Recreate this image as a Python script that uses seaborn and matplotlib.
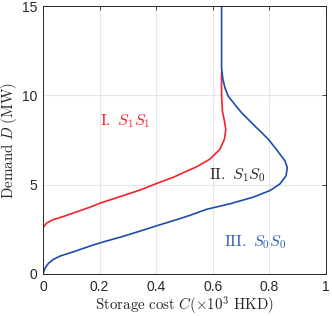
import numpy as np
import matplotlib
matplotlib.use('Agg')
import matplotlib.pyplot as plt
import seaborn as sns

# curve data (storage cost C, demand D)
red_c = [0.0, 0.013, 0.036, 0.072, 0.107, 0.166, 0.201, 0.284, 0.343, 0.402, 0.460,
         0.500, 0.543, 0.590, 0.625, 0.641, 0.646, 0.641, 0.634, 0.631, 0.631]
red_d = [2.59, 2.85, 3.04, 3.22, 3.41, 3.74, 3.96, 4.39, 4.70, 5.07, 5.41,
         5.70, 6.00, 6.43, 6.98, 7.54, 8.09, 8.56, 9.11, 10.04, 11.30]

blue_c = [0.0, 0.007, 0.019, 0.036, 0.060, 0.107, 0.166, 0.201, 0.284, 0.343, 0.402,
          0.460, 0.519, 0.578, 0.661, 0.743, 0.802, 0.837, 0.859, 0.863, 0.855,
          0.837, 0.820, 0.796, 0.773, 0.755, 0.731, 0.702, 0.678, 0.655, 0.643,
          0.635, 0.631, 0.631]
blue_d = [0.0, 0.32, 0.59, 0.81, 1.00, 1.24, 1.56, 1.74, 2.11, 2.40, 2.70,
          2.98, 3.28, 3.62, 3.93, 4.30, 4.67, 5.04, 5.50, 5.96, 6.33,
          6.71, 7.07, 7.54, 7.91, 8.18, 8.56, 9.02, 9.48, 9.94, 10.41,
          10.96, 11.52, 15.0]

red = '#f5202a'
blue = '#1f4ca8'

sns.set_style('white')
plt.rcParams['mathtext.fontset'] = 'cm'
plt.rcParams['font.family'] = ['Liberation Sans', 'DejaVu Sans']

fig = plt.figure(figsize=(3.32, 3.16), dpi=100)
ax = fig.add_axes([0.1295, 0.133, 0.8525, 0.848])

sns.lineplot(x=red_c, y=red_d, sort=False, estimator=None, color=red, lw=1.2, ax=ax)
sns.lineplot(x=blue_c, y=blue_d, sort=False, estimator=None, color=blue, lw=1.2, ax=ax)

ax.set_xlim(0, 1)
ax.set_ylim(0, 15)
ax.set_xticks([0, 0.2, 0.4, 0.6, 0.8, 1])
ax.set_xticklabels(['0', '0.2', '0.4', '0.6', '0.8', '1'])
ax.set_yticks([0, 5, 10, 15])
ax.grid(True, color='#e6e6e6', lw=0.8)
ax.tick_params(direction='in', length=3, width=0.6, top=True, right=True,
               labelsize=10, colors='#262626', pad=4)
for s in ax.spines.values():
    s.set_color('#262626')
    s.set_linewidth(0.7)

ax.set_xlabel(r'$\mathrm{Storage\ cost}\ C(\times 10^3\ \mathrm{HKD})$', fontsize=10.8,
              color='#262626', labelpad=1)
ax.set_ylabel(r'$\mathrm{Demand}\ D\ (\mathrm{MW})$', fontsize=10.8, color='#262626',
              labelpad=2)

ax.text(0.2, 8.56, r'$\mathrm{I.}\ S_1S_1$', color=red, fontsize=11.5, va='center')
ax.text(0.586, 5.53, r'$\mathrm{II.}\ S_1S_0$', color='#262626', fontsize=11.5, va='center')
ax.text(0.64, 1.79, r'$\mathrm{III.}\ S_0S_0$', color='#2f5fb3', fontsize=11.5, va='center')

fig.savefig('out.png', dpi=100)
